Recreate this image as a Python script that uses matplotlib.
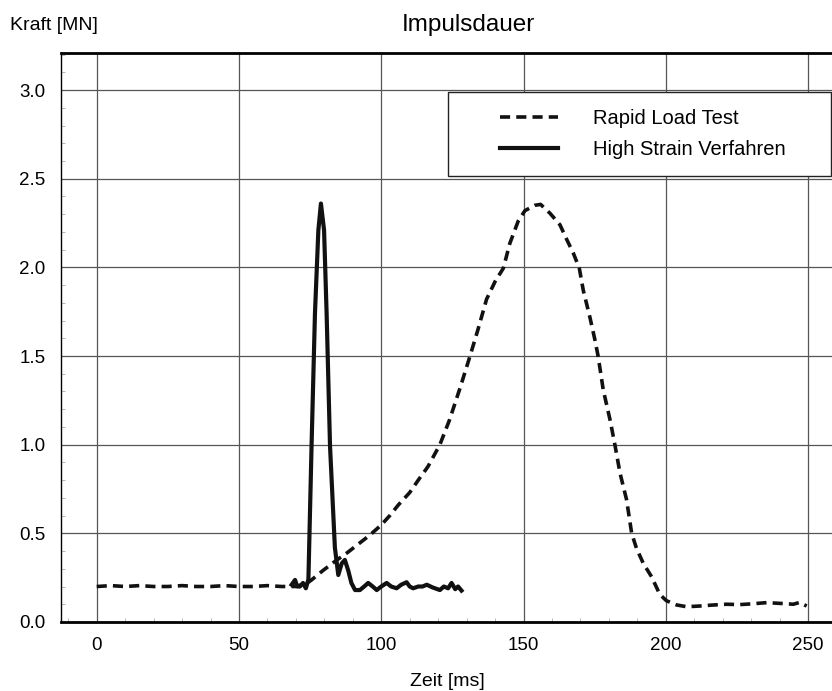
import matplotlib
matplotlib.use("Agg")
import matplotlib.pyplot as plt
from matplotlib.patches import Rectangle
from matplotlib.ticker import MultipleLocator

plt.rcParams["font.family"] = ["Liberation Sans", "DejaVu Sans"]

# Rapid Load Test (dashed)
t_rlt = [0, 5, 10, 15, 20, 25, 30, 35, 40, 45, 50, 55, 60, 65, 70, 72, 74,
         75.5, 79.5, 84, 88, 92, 96, 100, 103, 106, 110, 113, 116.4, 120.6,
         124, 127.7, 131.2, 134, 137, 140, 142.9, 145.2, 148.1, 150.5, 154,
         156, 159.3, 162.8, 165.1, 167.5, 169.6, 171, 173.3, 175.1, 176.2,
         178, 180.4, 182.1, 183.9, 186.2, 188, 189.7, 192.1, 195, 197.9,
         200.2, 203.8, 207.3, 212, 216, 221.4, 226, 230, 235.4, 240, 244.8,
         247, 249.5]
f_rlt = [0.20, 0.205, 0.20, 0.205, 0.20, 0.20, 0.205, 0.20, 0.20, 0.205,
         0.20, 0.20, 0.205, 0.20, 0.20, 0.21, 0.22,
         0.237, 0.29, 0.345, 0.39, 0.44, 0.49, 0.547, 0.60, 0.66, 0.73, 0.80,
         0.876, 1.0, 1.14, 1.32, 1.50, 1.65, 1.82, 1.92, 1.995, 2.136, 2.26,
         2.32, 2.35, 2.355, 2.305, 2.24, 2.16, 2.08, 1.995, 1.87, 1.72, 1.59,
         1.50, 1.31, 1.14, 1.0, 0.84, 0.69, 0.50, 0.415, 0.33, 0.255, 0.155,
         0.12, 0.096, 0.086, 0.09, 0.095, 0.10, 0.098, 0.102, 0.109, 0.105,
         0.10, 0.11, 0.09]

# High Strain Verfahren (solid)
t_hs = [68.5, 69.7, 70.5, 71.4, 72.5, 73.5, 74.4, 75.5, 76.7, 77.9, 78.8,
        79.9, 80.8, 82, 83.7, 84.9, 86.1, 87.2, 88.4, 89.5, 90.8, 92.5, 94,
        95.4, 97, 98.4, 100, 101.9, 103.5, 105.4, 107, 108.9, 110, 111.2, 113,
        114.5, 116, 118, 120.6, 122, 123.5, 124.7, 126, 127, 128.2]
f_hs = [0.21, 0.237, 0.20, 0.20, 0.22, 0.19, 0.24, 0.99, 1.74, 2.21, 2.36,
        2.21, 1.74, 0.99, 0.42, 0.265, 0.33, 0.35, 0.29, 0.22, 0.18, 0.18,
        0.20, 0.22, 0.20, 0.18, 0.20, 0.22, 0.20, 0.19, 0.21, 0.224, 0.20,
        0.19, 0.20, 0.20, 0.21, 0.195, 0.18, 0.20, 0.19, 0.22, 0.185, 0.20,
        0.177]

fig = plt.figure(figsize=(8.32, 6.91), dpi=100)
ax = fig.add_axes([0.0733, 0.0999, 0.9267, 0.8234])

ax.plot(t_rlt, f_rlt, color="#111111", lw=2.6, linestyle=(0, (2.8, 1.7)),
        label="Rapid Load Test", zorder=3)
ax.plot(t_hs, f_hs, color="#111111", lw=3.0, label="High Strain Verfahren",
        zorder=4)

ax.set_xlim(-12.55, 258.4)
ax.set_ylim(0, 3.209)
ax.set_xticks([0, 50, 100, 150, 200, 250])
ax.set_yticks([0.0, 0.5, 1.0, 1.5, 2.0, 2.5, 3.0])
ax.set_yticklabels(["0.0", "0.5", "1.0", "1.5", "2.0", "2.5", "3.0"])
ax.xaxis.set_minor_locator(MultipleLocator(10))
ax.yaxis.set_minor_locator(MultipleLocator(0.1))
ax.tick_params(which="major", length=0, labelsize=13.5)
ax.tick_params(axis="x", which="major", pad=11)
ax.tick_params(axis="y", which="major", pad=11)
ax.tick_params(which="minor", direction="in", length=3, width=0.5,
               color="#999999")
ax.grid(True, which="major", color="#555555", lw=0.9)

ax.spines["right"].set_visible(False)
ax.spines["left"].set_linewidth(1.0)
ax.spines["top"].set_linewidth(2.0)
ax.spines["bottom"].set_linewidth(2.0)

# legend frame
ax.add_patch(Rectangle((0.502, 0.784), 0.497, 0.147, transform=ax.transAxes,
                       facecolor="white", edgecolor="#222222", lw=1.0,
                       zorder=5))
ax.legend(loc="center", bbox_to_anchor=(0.515, 0.784, 0.48, 0.147),
          frameon=False, fontsize=14.5, handlelength=2.85, handletextpad=1.75,
          labelspacing=0.6).set_zorder(6)

fig.text(0.012, 1 - 25 / 691, "Kraft [MN]", fontsize=14, va="center",
         ha="left")
fig.text(468 / 832, 1 - 25 / 691, "Impulsdauer", fontsize=17.5, va="center",
         ha="center")
fig.text(447 / 832, 1 - 682 / 691, "Zeit [ms]", fontsize=14, va="center",
         ha="center")

fig.savefig("out.png", dpi=100)
